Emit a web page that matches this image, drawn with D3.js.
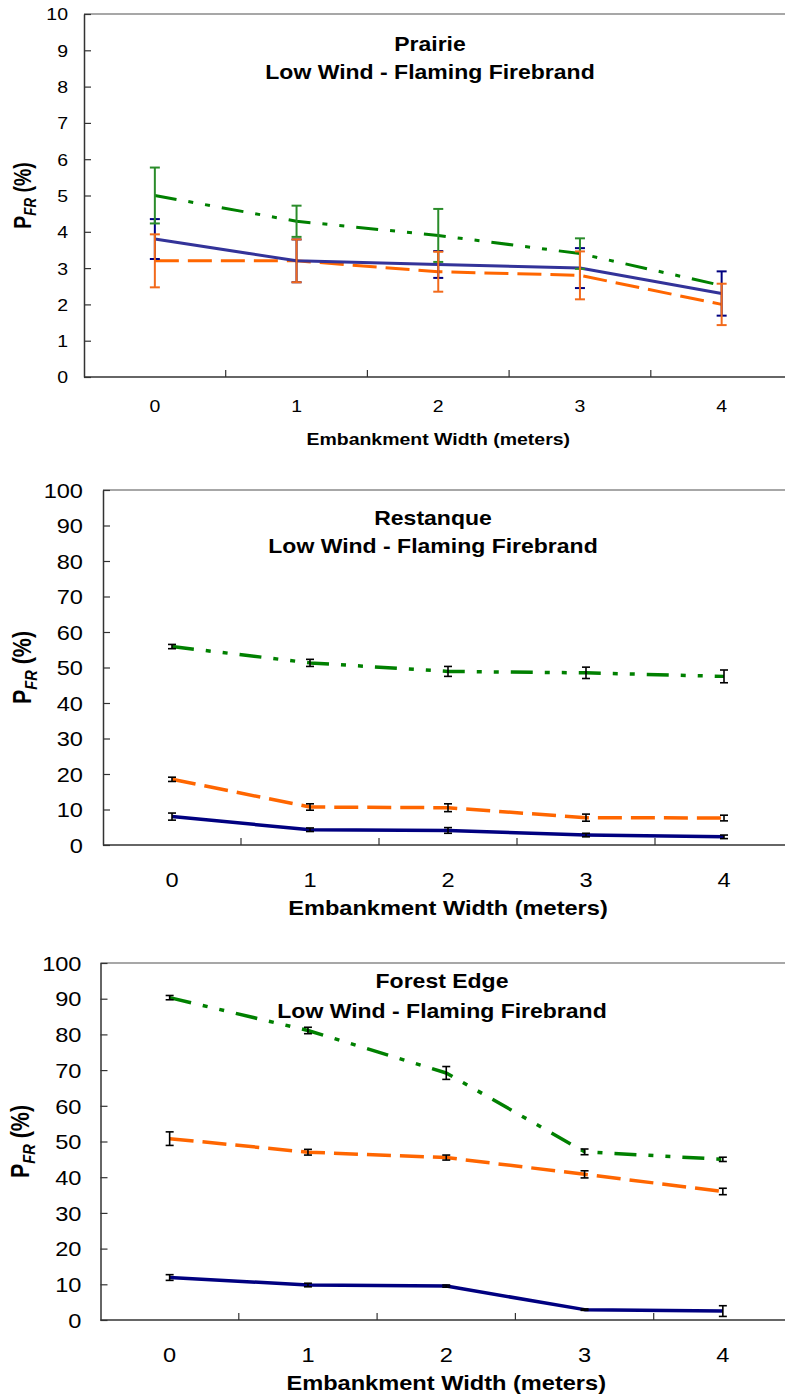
<!DOCTYPE html>
<html><head><meta charset="utf-8">
<script src="https://cdn.jsdelivr.net/npm/d3@7"></script>
<style>html,body{margin:0;padding:0;background:#fff;overflow:hidden} svg{display:block;overflow:hidden} text{font-family:Arial,"Liberation Sans",sans-serif;fill:#000}</style>
</head><body>
<svg id="c" width="785" height="1397"></svg>
<script>
// ---------- data ----------
const widths = ["0", "1", "2", "3", "4"];
const xTitle = "Embankment Width (meters)";
const subtitle = "Low Wind - Flaming Firebrand";
const prairieTicks = [0, 1, 2, 3, 4, 5, 6, 7, 8, 9, 10];
const pctTicks = [0, 10, 20, 30, 40, 50, 60, 70, 80, 90, 100];

const prairieBlue = [3.8, 3.2, 3.1, 3.0, 2.3];
const prairieBlueErr = [0.55, 0.59, 0.37, 0.55, 0.61];
const prairieOrange = [3.2, 3.2, 2.9, 2.8, 2.0];
const prairieOrangeErr = [0.73, 0.59, 0.55, 0.66, 0.57];
const prairieGreen = [5.0, 4.29, 3.9, 3.4, 2.52];
const prairieGreenErr = [0.77, 0.43, 0.73, 0.42, 0.0];

const restanqueBlue = [8.0, 4.3, 4.1, 2.8, 2.3];
const restanqueBlueErr = [1.0, 0.5, 0.8, 0.5, 0.5];
const restanqueOrange = [18.5, 10.7, 10.5, 7.7, 7.6];
const restanqueOrangeErr = [0.6, 0.9, 1.1, 1.0, 0.8];
const restanqueGreen = [55.9, 51.3, 48.9, 48.5, 47.5];
const restanqueGreenErr = [0.6, 1.0, 1.4, 1.6, 1.8];

const forestBlue = [11.9, 9.8, 9.5, 2.9, 2.5];
const forestBlueErr = [0.8, 0.5, 0.3, 0.2, 1.5];
const forestOrange = [50.8, 47.0, 45.5, 40.8, 36.0];
const forestOrangeErr = [1.9, 0.8, 0.7, 1.0, 0.9];
const forestGreen = [90.3, 81.1, 69.2, 47.1, 45.0];
const forestGreenErr = [0.6, 0.9, 1.8, 0.8, 0.6];

// ---------- drawing ----------
const SX = 1.18; // horizontal stretch of the original picture
const W = 785;
const svg = d3.select("#c");

function panel(o) {
  const g = svg.append("g");
  const x = d3.scaleBand().domain(widths).range([o.left, o.left + o.band * widths.length]);
  const y = d3.scaleLinear().domain([0, o.yMax]).range([o.bottom, o.top]);
  const right = x.range()[1];
  const visRight = Math.min(right, W);

  // top border
  g.append("line").attr("x1", o.left).attr("x2", visRight).attr("y1", o.top).attr("y2", o.top)
    .attr("stroke", "#8a8a8a").attr("stroke-width", 1.5);

  // y axis
  const ya = g.append("g").attr("transform", `translate(${o.left},0)`)
    .call(d3.axisLeft(y).tickValues(o.ticks).tickSizeInner(-7).tickSizeOuter(0).tickPadding(o.pad));
  ya.select(".domain").attr("stroke", "#333").attr("stroke-width", 1.5);
  ya.selectAll(".tick line").attr("stroke", "#333").attr("stroke-width", 1.2);
  ya.selectAll(".tick text").attr("x", null).attr("dy", "0.36em")
    .attr("transform", `translate(${-o.pad},0) scale(${SX},1)`)
    .style("font-size", o.tickFont + "px").style("font-family", "Arial, 'Liberation Sans', sans-serif");

  // x axis
  const xa = g.append("g").attr("transform", `translate(0,${o.bottom})`)
    .call(d3.axisBottom(x).tickSize(0).tickPadding(0));
  xa.select(".domain").remove();
  g.append("line").attr("x1", o.left).attr("x2", visRight).attr("y1", o.bottom).attr("y2", o.bottom)
    .attr("stroke", "#333").attr("stroke-width", 1.5);
  xa.selectAll(".tick text").attr("y", null).attr("dy", null)
    .attr("transform", `translate(0,${o.xLabelBase - o.bottom}) scale(${SX},1)`)
    .style("font-size", o.tickFont + "px").style("font-family", "Arial, 'Liberation Sans', sans-serif");
  // inner tick marks on band boundaries
  g.selectAll(".btick").data(widths.slice(1)).enter().append("line")
    .attr("x1", d => x(d)).attr("x2", d => x(d))
    .attr("y1", o.bottom).attr("y2", o.bottom - 7)
    .attr("stroke", "#333").attr("stroke-width", 1.2);

  // axis titles
  const cx = (o.left + right) / 2;
  g.append("text").attr("transform", `translate(${cx},${o.xTitleBase}) scale(${SX},1)`)
    .attr("text-anchor", "middle").style("font-weight", "bold").style("font-size", o.xTitleFont + "px")
    .text(xTitle);
  const yt = g.append("text")
    .attr("transform", `translate(${o.yTitleX},${(o.top + o.bottom) / 2}) scale(${SX},1) rotate(-90)`)
    .attr("text-anchor", "middle").style("font-weight", "bold").style("font-size", o.yTitleFont + "px");
  yt.append("tspan").text("P");
  yt.append("tspan").text("FR").style("font-style", "italic").style("font-size", (o.yTitleFont * 0.68) + "px")
    .attr("dy", o.yTitleFont * 0.22);
  yt.append("tspan").text(o.yGap + "(%)").attr("dy", -o.yTitleFont * 0.22);

  // chart title
  [o.title, subtitle].forEach((t, i) => {
    g.append("text").attr("transform", `translate(${o.titleX},${o.titleBases[i]}) scale(${SX},1)`)
      .attr("text-anchor", "middle").style("font-weight", "bold").style("font-size", o.titleFont + "px")
      .text(t);
  });

  // series lines
  const line = d3.line().x((d, i) => x(widths[i]) + x.bandwidth() / 2).y(d => y(d));
  o.series.forEach(s => {
    g.append("path").datum(s.values).attr("d", line).attr("fill", "none")
      .attr("stroke", s.color).attr("stroke-width", o.lineW)
      .attr("stroke-dasharray", s.dash || null).attr("stroke-linejoin", "round");
  });

  // error bars
  o.errOrder.forEach(k => {
    const s = o.series[k];
    s.values.forEach((v, i) => {
      const e = s.err[i];
      if (!e) return;
      const px = x(widths[i]) + x.bandwidth() / 2;
      const col = o.errColor || s.errColor;
      const eg = g.append("g").attr("stroke", col).attr("stroke-width", o.errW);
      eg.append("line").attr("x1", px).attr("x2", px).attr("y1", y(v - e)).attr("y2", y(v + e));
      [v - e, v + e].forEach(t => eg.append("line").attr("x1", px - o.capW / 2).attr("x2", px + o.capW / 2)
        .attr("y1", y(t)).attr("y2", y(t)));
    });
  });
}

const greenDash = "22,12,5,12,5,12";
const orangeDash = "24,9";

panel({
  title: "Prairie", left: 84, top: 14, bottom: 377, band: 141.7, yMax: 10, ticks: prairieTicks,
  tickFont: 16.5, pad: 16, xLabelBase: 412, xTitleBase: 445, xTitleFont: 16.5,
  titleBases: [50.7, 79.3], titleX: 430, titleFont: 19.5, yTitleX: 31, yTitleFont: 19.5, yGap: " ",
  lineW: 3, capW: 10, errW: 2,
  series: [
    { values: prairieGreen, err: prairieGreenErr, color: "#008000", errColor: "#2a8c2a", dash: greenDash },
    { values: prairieOrange, err: prairieOrangeErr, color: "#ff6600", errColor: "#f26a1b", dash: orangeDash },
    { values: prairieBlue, err: prairieBlueErr, color: "#333399", errColor: "#000080" }
  ],
  errOrder: [2, 0, 1]
});

panel({
  title: "Restanque", left: 103, top: 490, bottom: 845, band: 138, yMax: 100, ticks: pctTicks,
  tickFont: 20, pad: 20, xLabelBase: 887, xTitleBase: 915, xTitleFont: 20,
  titleBases: [525, 553], titleX: 433, titleFont: 19.5, yTitleX: 31, yTitleFont: 21.5, yGap: "  ",
  lineW: 3.5, capW: 8, errW: 1.6, errColor: "#000",
  series: [
    { values: restanqueGreen, err: restanqueGreenErr, color: "#008000", dash: greenDash },
    { values: restanqueOrange, err: restanqueOrangeErr, color: "#ff6600", dash: orangeDash },
    { values: restanqueBlue, err: restanqueBlueErr, color: "#000080" }
  ],
  errOrder: [0, 1, 2]
});

panel({
  title: "Forest Edge", left: 100.5, top: 963, bottom: 1320, band: 138.3, yMax: 100, ticks: pctTicks,
  tickFont: 20, pad: 19, xLabelBase: 1362, xTitleBase: 1390, xTitleFont: 20,
  titleBases: [988, 1018], titleX: 442, titleFont: 19.5, yTitleX: 29, yTitleFont: 21.5, yGap: "  ",
  lineW: 3.5, capW: 8, errW: 1.6, errColor: "#000",
  series: [
    { values: forestGreen, err: forestGreenErr, color: "#008000", dash: greenDash },
    { values: forestOrange, err: forestOrangeErr, color: "#ff6600", dash: orangeDash },
    { values: forestBlue, err: forestBlueErr, color: "#000080" }
  ],
  errOrder: [0, 1, 2]
});
</script>
</body></html>
